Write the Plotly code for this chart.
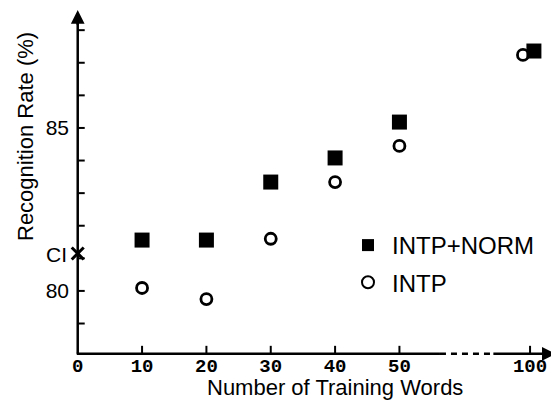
import plotly.graph_objects as go

# ---------------- data ----------------
training_words = [10, 20, 30, 40, 50, 100]
intp_norm = [81.56, 81.56, 83.34, 84.08, 85.18, 87.36]
intp = [80.09, 79.75, 81.60, 83.34, 84.45, 87.24]
ci_value = 81.15
x_tick_values = [0, 10, 20, 30, 40, 50, 100]
x_tick_labels = ["0", "10", "20", "30", "40", "50", "100"]
y_tick_values = [80, 85]
y_tick_labels = ["80", "85"]
y_minor_ticks = [79, 80, 81, 82, 83, 84, 85, 86, 87, 88]

# ---------------- broken x axis mapping ----------------
BREAK_AFTER = 50
BREAK_POS_100 = 70.3   # display position of value 100 after the axis break

def xpos(v):
    if v <= BREAK_AFTER:
        return v
    return BREAK_POS_100 + (v - 100)

DODGE = {"INTP+NORM": 0.6, "INTP": -1.1}   # only where points collide (after break)

def xs(series):
    return [xpos(v) + (DODGE[series] if v > BREAK_AFTER else 0) for v in training_words]

BLACK = "#000000"
PAGE_OFFSET = 8            # default body margin of the page
X_RANGE = [-1.2, 74.8]
Y_RANGE = [77.85, 88.68]
Y_AXIS_BOTTOM = 78.07      # where the x axis line sits
Y_AXIS_TOP = 88.62         # tip of the y arrow
X_AXIS_END = 74.3          # tip of the x arrow
W, H = 559, 414
ML, MR, MT, MB = 62, 8, 0, 61
PW, PH = W - ML - MR, H - MT - MB
XU = PW / (X_RANGE[1] - X_RANGE[0])   # px per x unit
YU = PH / (Y_RANGE[1] - Y_RANGE[0])   # px per y unit

def px2paper(px, py):
    px -= PAGE_OFFSET
    py -= PAGE_OFFSET
    return (px - ML) / PW, (H - MB - py) / PH

fig = go.Figure()
fig.add_trace(go.Scatter(
    x=xs("INTP+NORM"), y=intp_norm, mode="markers", name="INTP+NORM",
    legendgroup="a",
    marker=dict(symbol="square", size=15, color=BLACK, line=dict(width=0)),
    cliponaxis=False,
))
fig.add_trace(go.Scatter(
    x=xs("INTP"), y=intp, mode="markers", name="INTP",
    legendgroup="b",
    marker=dict(symbol="circle-open", size=11, color=BLACK, line=dict(width=2.8, color=BLACK)),
    cliponaxis=False,
))
# CI cross on the y axis
fig.add_trace(go.Scatter(
    x=[0], y=[ci_value], mode="markers", showlegend=False,
    marker=dict(symbol="x-thin-open", size=12, color=BLACK, line=dict(width=3, color=BLACK)),
    cliponaxis=False,
))

LW = 2.5
line_style = dict(color=BLACK, width=LW)
# x axis line with a dashed break
brk_a, brk_b = 56.3, 64.6
fig.add_shape(type="line", x0=-0.15, x1=brk_a, y0=Y_AXIS_BOTTOM, y1=Y_AXIS_BOTTOM, line=line_style)
fig.add_shape(type="line", x0=brk_a, x1=brk_b, y0=Y_AXIS_BOTTOM, y1=Y_AXIS_BOTTOM,
              line=dict(color=BLACK, width=LW, dash="6px,5px"))
fig.add_shape(type="line", x0=brk_b, x1=X_AXIS_END - 0.8, y0=Y_AXIS_BOTTOM, y1=Y_AXIS_BOTTOM, line=line_style)
# y axis line
fig.add_shape(type="line", x0=0, x1=0, y0=Y_AXIS_BOTTOM, y1=Y_AXIS_TOP - 0.25, line=line_style)

# tick marks (inside)
for v in x_tick_values[1:]:
    fig.add_shape(type="line", x0=xpos(v), x1=xpos(v), y0=Y_AXIS_BOTTOM, y1=Y_AXIS_BOTTOM + 8 / YU,
                  line=dict(color=BLACK, width=2))
for v in y_minor_ticks:
    fig.add_shape(type="line", x0=0, x1=7 / XU, y0=v, y1=v, line=dict(color=BLACK, width=2))

# arrow heads
fig.add_annotation(x=X_AXIS_END, y=Y_AXIS_BOTTOM, ax=X_AXIS_END - 2.0, ay=Y_AXIS_BOTTOM,
                   xref="x", yref="y", axref="x", ayref="y",
                   text="", showarrow=True, arrowhead=2, arrowsize=1.1, arrowwidth=LW, arrowcolor=BLACK)
fig.add_annotation(x=0, y=Y_AXIS_TOP, ax=0, ay=Y_AXIS_TOP - 0.5,
                   xref="x", yref="y", axref="x", ayref="y",
                   text="", showarrow=True, arrowhead=2, arrowsize=1.1, arrowwidth=LW, arrowcolor=BLACK)

# CI label
fig.add_annotation(x=0, y=ci_value, xref="x", yref="y", text="CI", showarrow=False,
                   xanchor="right", xshift=-9, yshift=-1,
                   font=dict(family="Liberation Sans", size=21, color=BLACK))

# axis titles
tx, ty = px2paper(335, 388)
fig.add_annotation(x=tx, y=ty, xref="paper", yref="paper", text="Number of Training Words",
                   showarrow=False, xanchor="center", yanchor="middle",
                   font=dict(family="Liberation Sans", size=22, color=BLACK))
tx, ty = px2paper(25, 137)
fig.add_annotation(x=tx, y=ty, xref="paper", yref="paper", text="Recognition Rate (%)",
                   showarrow=False, xanchor="center", yanchor="middle", textangle=-90,
                   font=dict(family="Liberation Sans", size=22, color=BLACK))

lx, ly = px2paper(344, 223)
fig.update_layout(
    width=W, height=H,
    margin=dict(l=ML, r=MR, t=MT, b=MB),
    paper_bgcolor="white", plot_bgcolor="white",
    showlegend=True,
    legend=dict(x=lx, y=ly, xanchor="left", yanchor="top",
                bgcolor="rgba(0,0,0,0)", traceorder="grouped", tracegroupgap=3,
                itemwidth=38,
                font=dict(family="Liberation Sans", size=24, color=BLACK),
                itemsizing="constant"),
    xaxis=dict(range=X_RANGE, showgrid=False, zeroline=False, showline=False, automargin=False,
               tickmode="array", tickvals=[xpos(v) for v in x_tick_values], ticktext=x_tick_labels,
               ticks="", ticklabelstandoff=-9,
               tickfont=dict(family="Liberation Mono", size=19, color=BLACK, weight="bold")),
    yaxis=dict(range=Y_RANGE, showgrid=False, zeroline=False, showline=False, automargin=False,
               tickmode="array", tickvals=y_tick_values, ticktext=y_tick_labels,
               ticks="", ticklabelstandoff=0,
               tickfont=dict(family="Liberation Sans", size=21, color=BLACK)),
)

fig.write_html("out.html")
